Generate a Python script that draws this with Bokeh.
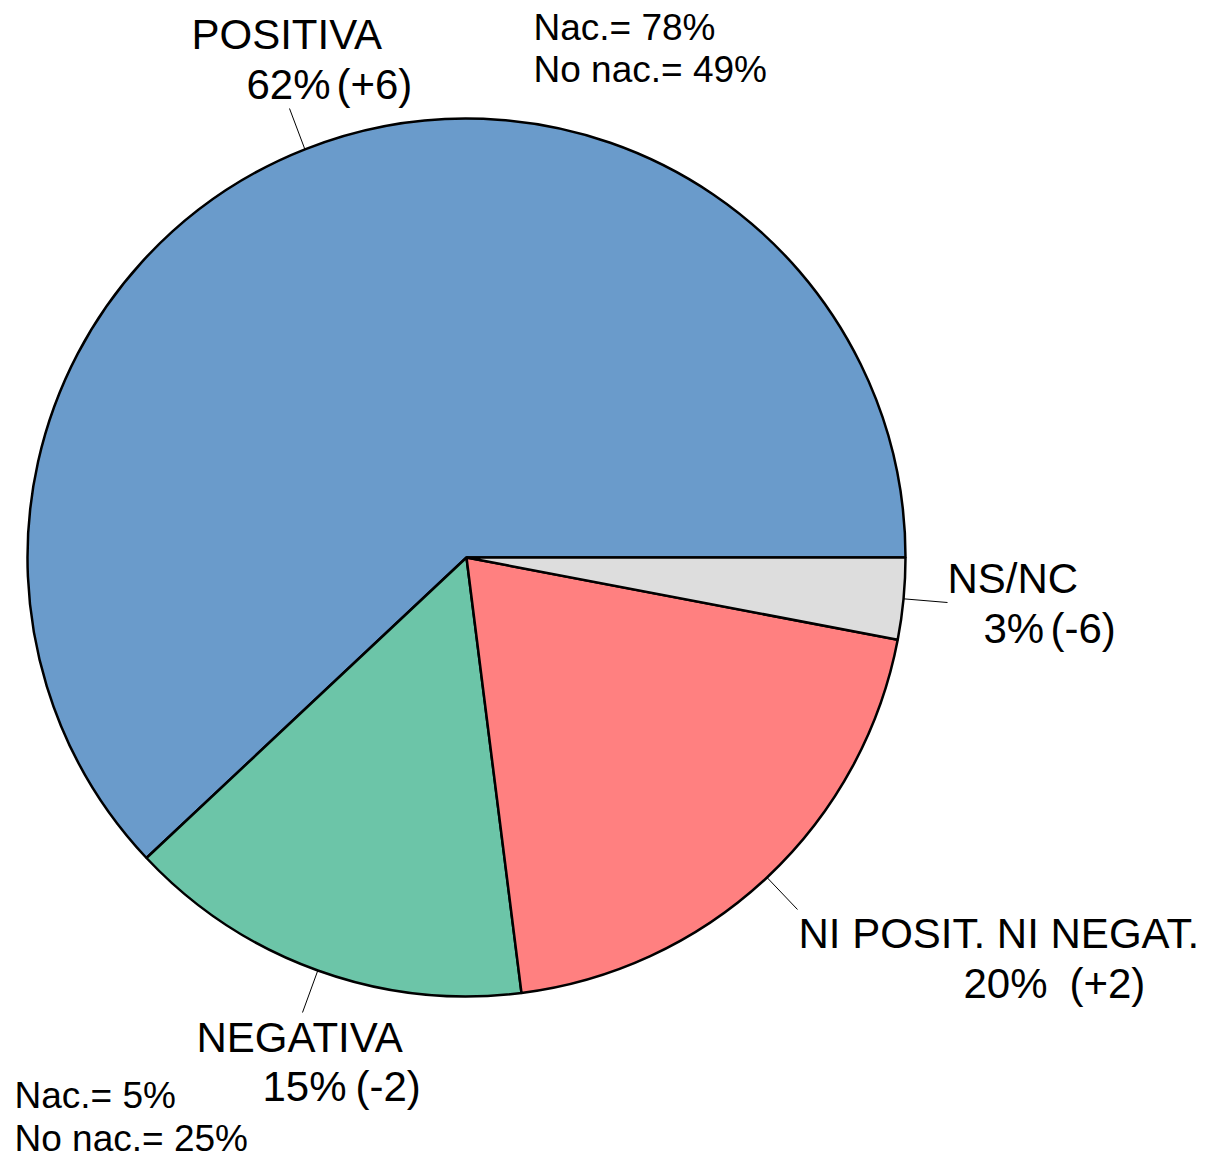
import math
from bokeh.plotting import figure
from bokeh.models import Range1d
from bokeh.core.properties import value
from bokeh.embed import file_html
from bokeh.resources import INLINE

# ---- data ----
categories = ["POSITIVA", "NEGATIVA", "NI POSIT. NI NEGAT.", "NS/NC"]
percentages = [62, 15, 20, 3]
changes = ["(+6)", "(-2)", "(+2)", "(-6)"]
colors = ["#6A9BCB", "#6CC5A8", "#FF8080", "#DDDDDD"]
note_positiva = ["Nac.= 78%", "No nac.= 49%"]
note_negativa = ["Nac.= 5%", "No nac.= 25%"]

W, H = 1225, 1167
TXT_DY = 14  # correction for renderer baseline placement
def X(sx):
    return sx
def Y(sy):
    return H - sy
def YT(sy):
    return H - (sy - TXT_DY)

p = figure(width=W, height=H, x_range=Range1d(0, W), y_range=Range1d(0, H),
           min_border=0, toolbar_location=None, output_backend="svg",
           x_axis_location=None, y_axis_location=None)
p.grid.visible = False
p.outline_line_color = None
p.background_fill_color = "white"

cx, cy, r = X(466), Y(557), 439
total = sum(percentages)
starts, ends, mids = [], [], []
acc = 0.0
for v in percentages:
    a0 = 2 * math.pi * acc / total
    acc += v
    a1 = 2 * math.pi * acc / total
    starts.append(a0)
    ends.append(a1)
    mids.append((a0 + a1) / 2)

p.wedge(x=cx, y=cy, radius=r, start_angle=starts, end_angle=ends,
        direction="anticlock", fill_color=colors, line_color="black",
        line_width=2.5)

# label layout (screen px): name pos, pct pos, change pos, leader end
name_pos = [(191, 48), (196, 1051), (798, 947), (947, 592)]
pct_pos = [(246, 98), (262, 1100), (963, 997), (983, 642)]
chg_pos = [(336, 98), (355, 1100), (1069, 997), (1050, 642)]
leader_end = [(289, 108), (302, 1012), (797, 909), (947, 602)]

font = value("Liberation Sans")
for i, cat in enumerate(categories):
    p.text(x=[X(name_pos[i][0])], y=[YT(name_pos[i][1])], text=[cat],
           text_font=font, text_font_size="42px", text_align="left",
           text_baseline="alphabetic", text_color="black")
    p.text(x=[X(pct_pos[i][0])], y=[YT(pct_pos[i][1])], text=[f"{percentages[i]}%"],
           text_font=font, text_font_size="42px", text_align="left",
           text_baseline="alphabetic", text_color="black")
    p.text(x=[X(chg_pos[i][0])], y=[YT(chg_pos[i][1])], text=[changes[i]],
           text_font=font, text_font_size="42px", text_align="left",
           text_baseline="alphabetic", text_color="black")
    mx = cx + r * math.cos(mids[i])
    my = cy + r * math.sin(mids[i])
    p.segment(x0=[mx], y0=[my], x1=[X(leader_end[i][0])], y1=[Y(leader_end[i][1])],
              line_color="black", line_width=1)

note_pos_pos = [(533, 41), (533, 83)]
note_neg_pos = [(14, 1109), (14, 1152)]
for txt, (sx, sy) in zip(note_positiva, note_pos_pos):
    p.text(x=[X(sx)], y=[YT(sy)], text=[txt], text_font=font, text_font_size="37px",
           text_align="left", text_baseline="alphabetic", text_color="black")
for txt, (sx, sy) in zip(note_negativa, note_neg_pos):
    p.text(x=[X(sx)], y=[YT(sy)], text=[txt], text_font=font, text_font_size="37px",
           text_align="left", text_baseline="alphabetic", text_color="black")

open("out.html", "w").write(file_html(p, INLINE))
